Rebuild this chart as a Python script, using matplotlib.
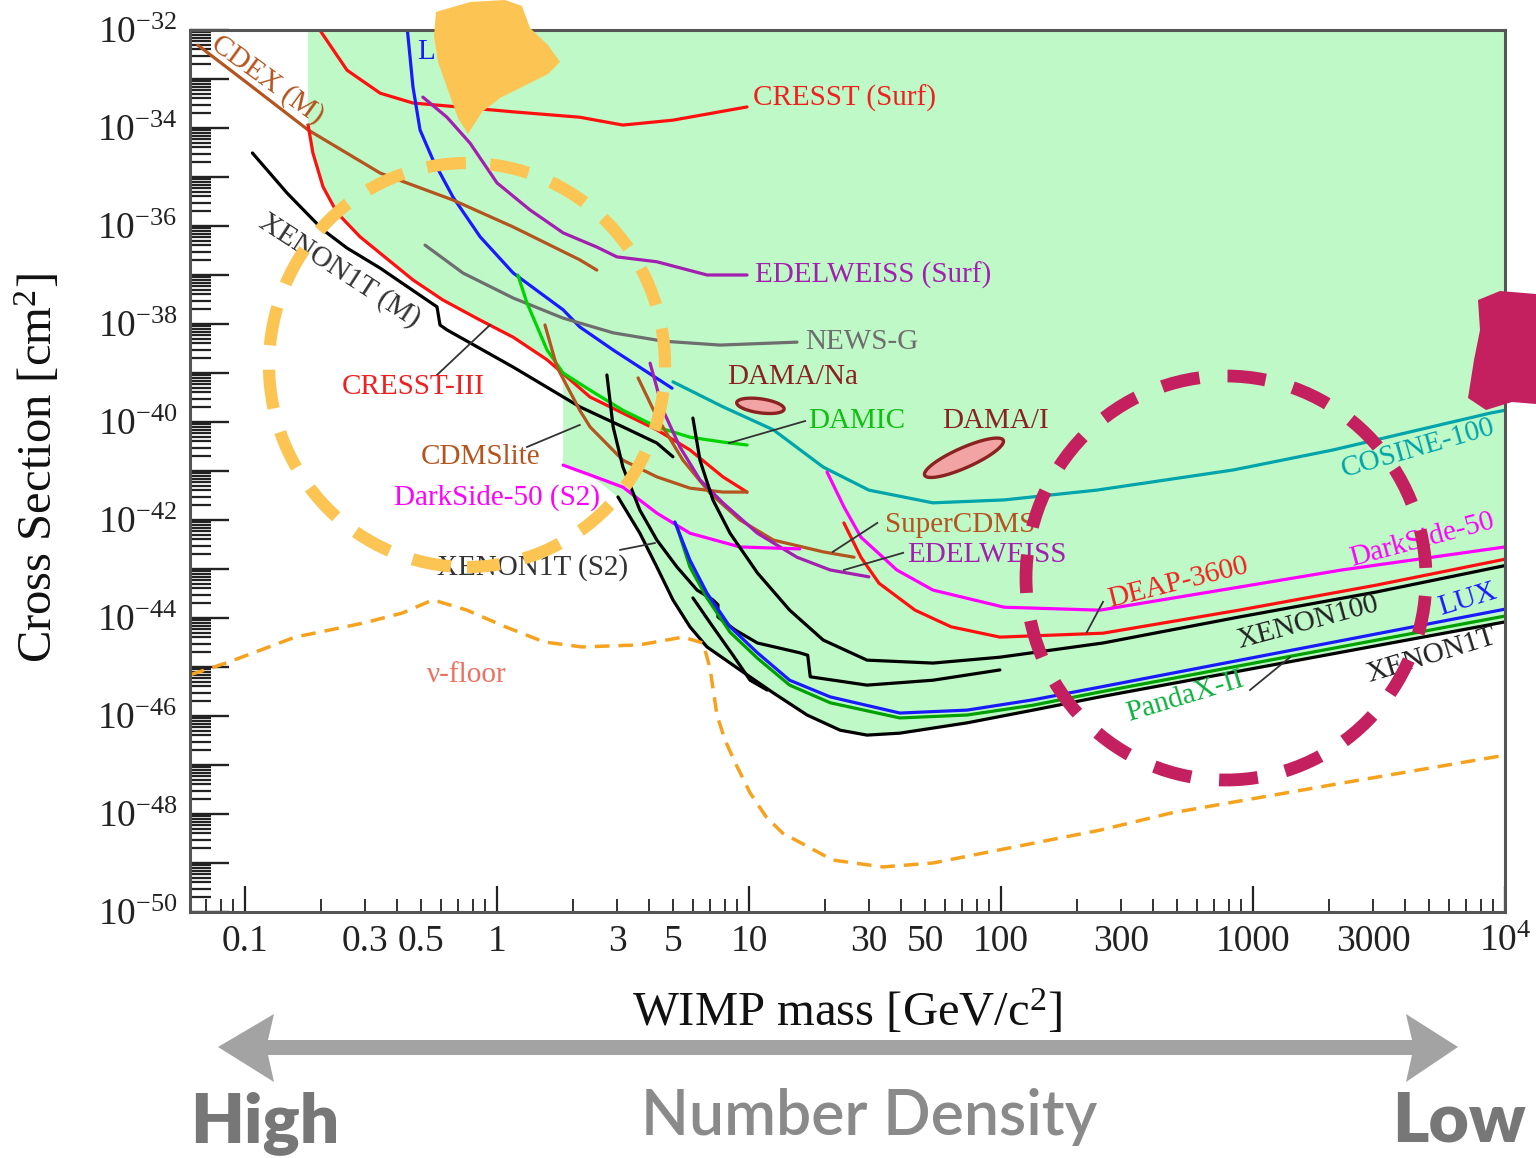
import numpy as np
import matplotlib
matplotlib.use("Agg")
import matplotlib.pyplot as plt
from matplotlib.patches import Ellipse, Polygon
from matplotlib.ticker import LogLocator, FuncFormatter

plt.rcParams['font.family'] = ['Liberation Serif', 'DejaVu Serif']
plt.rcParams['mathtext.fontset'] = 'custom'
plt.rcParams['mathtext.rm'] = 'Liberation Serif'
plt.rcParams['mathtext.it'] = 'Liberation Serif:italic'
plt.rcParams['mathtext.bf'] = 'Liberation Serif:bold'

# ---------------- data: WIMP mass [GeV/c^2], log10(cross section [cm^2]) ----------------
cresst_surf_mass = [0.195, 0.254, 0.344, 0.464, 0.633, 1.16, 2.13, 3.16, 4.99, 9.82]
cresst_surf_logxs = [-31.95, -32.82, -33.29, -33.49, -33.55, -33.67, -33.78, -33.94, -33.84, -33.57]

lux_lowmass_mass = [0.44, 0.464, 0.495, 0.557, 0.669, 0.857, 1.16, 1.83, 2.13, 2.89, 4.95]
lux_lowmass_logxs = [-31.95, -33.16, -34.04, -34.65, -35.41, -36.22, -36.96, -37.71, -38.06, -38.53, -39.31]

edelweiss_surf_mass = [0.508, 0.633, 0.782, 1.0, 1.35, 1.83, 2.49, 2.99, 4.31, 6.82, 9.82]
edelweiss_surf_logxs = [-33.37, -33.78, -34.31, -35.12, -35.67, -36.14, -36.43, -36.63, -36.73, -37.0, -37.0]

cdex_mass = [0.065, 0.102, 0.178, 0.344, 0.669, 1.16, 2.13, 2.49]
cdex_logxs = [-32.31, -33.08, -34.04, -34.92, -35.47, -36.02, -36.69, -36.90]

xenon1t_m_mass = [0.107, 0.147, 0.204, 0.254, 0.344, 0.527, 0.578, 0.594, 0.633, 1.16, 2.13, 3.16, 4.31, 4.99]
xenon1t_m_logxs = [-34.51, -35.33, -36.08, -36.45, -36.86, -37.51, -37.65, -38.02, -38.12, -38.88, -39.69, -40.10, -40.43, -40.71]

cresst3_mass = [0.178, 0.186, 0.204, 0.232, 0.286, 0.464, 0.61, 0.857, 1.16, 1.58, 2.34, 3.16, 4.31, 5.83, 7.88, 9.82]
cresst3_logxs = [-33.94, -34.51, -35.20, -35.73, -36.22, -37.10, -37.51, -37.92, -38.27, -38.73, -39.49, -39.82, -40.16, -40.57, -41.12, -41.43]

newsg_mass = [0.518, 0.733, 1.16, 1.83, 2.89, 4.56, 7.67, 15.5]
newsg_logxs = [-36.39, -36.96, -37.47, -37.88, -38.18, -38.35, -38.43, -38.37]

damic_mass = [1.21, 1.315, 1.58, 1.83, 2.34, 3.16, 4.31, 5.83, 7.88, 9.82]
damic_logxs = [-37.0, -37.57, -38.53, -39.0, -39.35, -39.76, -40.10, -40.31, -40.41, -40.47]

cdmslite_mass = [1.55, 1.73, 2.13, 2.34, 3.16, 4.31, 5.83, 7.88, 9.82]
cdmslite_logxs = [-38.02, -38.88, -39.76, -40.10, -40.78, -41.12, -41.35, -41.43, -41.43]

supercdms_mass = [3.63, 4.31, 5.47, 7.0, 9.21, 12.5, 19.7, 26.1]
supercdms_logxs = [-39.10, -39.90, -40.78, -41.45, -42.0, -42.41, -42.65, -42.76]

edelweiss_mass = [4.05, 4.56, 5.32, 6.39, 7.88, 10.8, 15.5, 21.0, 29.9]
edelweiss_logxs = [-38.80, -39.76, -40.51, -41.18, -41.65, -42.27, -42.76, -43.02, -43.16]

cosine_mass = [4.99, 7.88, 12.5, 19.7, 29.9, 53.7, 103, 240, 833, 2080, 8710, 10000]
cosine_logxs = [-39.18, -39.69, -40.16, -40.92, -41.39, -41.65, -41.59, -41.39, -40.98, -40.57, -39.82, -39.76]

ds50_s2_mass = [1.83, 2.34, 3.16, 4.31, 5.83, 9.21, 15.9]
ds50_s2_logxs = [-40.88, -41.08, -41.33, -41.86, -42.27, -42.55, -42.59]

ds50_mass = [20.4, 23.8, 27.8, 38.6, 53.7, 103, 247, 880, 2250, 10000]
ds50_logxs = [-41.02, -41.73, -42.35, -43.02, -43.43, -43.78, -43.84, -43.37, -43.02, -42.55]

deap_mass = [23.8, 27.8, 32.8, 45.6, 63.4, 99, 254, 880, 3080, 10000]
deap_logxs = [-42.06, -42.76, -43.29, -43.84, -44.18, -44.39, -44.31, -43.84, -43.33, -42.80]

xenon100_mass = [5.99, 6.39, 7.19, 8.41, 10.8, 14.5, 19.7, 29.4, 53.7, 99, 254, 880, 3080, 10000]
xenon100_logxs = [-39.92, -40.78, -41.59, -42.27, -43.08, -43.84, -44.45, -44.86, -44.92, -44.80, -44.51, -43.98, -43.47, -42.93]

notched_mass = [2.73, 2.89, 3.16, 3.69, 4.31, 5.18, 6.22, 7.19, 7.53, 7.53, 8.79, 10.8, 15.9, 17.1, 17.5, 29.4, 53.7, 99]
notched_logxs = [-39.04, -40.10, -40.92, -41.80, -42.41, -42.96, -43.43, -43.63, -43.73, -43.98, -44.24, -44.51, -44.71, -44.76, -45.20, -45.37, -45.27, -45.06]

short_seg_mass = [5.99, 7.19, 8.64, 10.1, 11.8]
short_seg_logxs = [-43.59, -44.18, -44.76, -45.27, -45.47]

xenon1t_mass = [3.02, 3.69, 4.31, 4.99, 5.83, 6.81, 9.21, 12.5, 17.0, 23.0, 29.4, 39.7, 73.3, 134, 247, 10000]
xenon1t_logxs = [-41.53, -42.27, -42.96, -43.63, -44.18, -44.59, -45.06, -45.53, -45.98, -46.29, -46.39, -46.35, -46.14, -45.88, -45.61, -44.08]

lux_mass = [5.08, 5.83, 6.81, 8.41, 10.8, 14.5, 21.0, 39.7, 73.3, 134, 247, 10000]
lux_logxs = [-42.04, -42.82, -43.49, -44.18, -44.71, -45.27, -45.61, -45.94, -45.88, -45.67, -45.41, -43.82]

pandax_mass = [5.18, 5.83, 6.81, 8.41, 10.8, 14.5, 21.0, 39.7, 73.3, 134, 247, 10000]
pandax_logxs = [-42.14, -42.96, -43.59, -44.29, -44.82, -45.37, -45.73, -46.04, -45.98, -45.78, -45.51, -43.96]

vfloor_mass = [0.0605, 0.084, 0.158, 0.297, 0.42, 0.557, 0.76, 1.08, 1.54, 2.17, 3.66, 5.47, 6.57, 7.0,
               7.46, 8.03, 8.79, 10.1, 11.7, 13.6, 21.5, 34.0, 53.7, 99, 247, 473, 2250, 10000]
vfloor_logxs = [-45.16, -44.92, -44.39, -44.10, -43.90, -43.63, -43.84, -44.18, -44.49, -44.59, -44.55, -44.39,
                -44.51, -45.02, -45.98, -46.49, -46.94, -47.57, -48.06, -48.39, -48.94, -49.08, -49.0, -48.73,
                -48.33, -47.98, -47.37, -46.80]

# DAMA allowed regions: centre (mass, log10 xs), half-axis vectors in decades (log mass, log xs)
dama_na_center = (11.1, -39.67)
dama_na_major = (0.094, -0.068)
dama_na_minor = (-0.004, -0.141)
dama_i_center = (71.3, -40.73)
dama_i_major = (0.156, 0.357)
dama_i_minor = (0.016, -0.186)

xtick_values = [0.1, 0.3, 0.5, 1, 3, 5, 10, 30, 50, 100, 300, 1000, 3000, 10000]
xtick_labels = ['0.1', '0.3', '0.5', '1', '3', '5', '10', '30', '50', '100', '300', '1000', '3000', r'$10^4$']

# ---------------- colours ----------------
RED = '#ff1010'
BLUE = '#1a1aff'
PURPLE = '#a31fb0'
BROWN = '#b4541e'
GRAY = '#6e6e6e'
GREEN = '#00d400'
TEAL = '#00a4ab'
MAGENTA = '#ff00ff'
PANDA = '#00a000'
DARKRED = '#8b2222'
FILL = '#c0f9c8'
ORANGE = '#f7a21e'

fig = plt.figure(figsize=(15.36, 11.58), dpi=100)
W, H = 1536.0, 1158.0
ax = fig.add_axes([190 / W, 1 - 912 / H, 1315 / W, 882 / H])
ax.set_xscale('log')
ax.set_yscale('log')
ax.set_xlim(0.0605, 1e4)
ax.set_ylim(1e-50, 1e-32)


def X(v):
    return 10.0 ** np.asarray(v, dtype=float)


# excluded (green) region built from the limit curves
c3m = np.array(cresst3_mass)
c3l = np.array(cresst3_logxs)
dsm = np.array(ds50_s2_mass)
dsl = np.array(ds50_s2_logxs)
x1m = np.array(xenon1t_mass)
x1l = np.array(xenon1t_logxs)
edge_m = dsm[0]
c3_edge = np.interp(np.log10(edge_m), np.log10(c3m), c3l)
ds_sel = dsm < x1m[0]
c3_sel = c3m < edge_m
ytop = np.log10(ax.get_ylim()[1])
poly_m = np.concatenate([[c3m[0], x1m[-1]], x1m[::-1], dsm[ds_sel][::-1], [edge_m], c3m[c3_sel][::-1]])
poly_l = np.concatenate([[ytop, ytop], x1l[::-1], dsl[ds_sel][::-1], [c3_edge], c3l[c3_sel][::-1]])
ax.fill(poly_m, X(poly_l), color=FILL, lw=0, zorder=0.5)

LW = 2.3


def curve(m, l, color, lw=LW, **kw):
    ax.plot(m, X(l), color=color, lw=lw, solid_joinstyle='round', solid_capstyle='round', zorder=2, **kw)


curve(cresst_surf_mass, cresst_surf_logxs, RED)
curve(lux_lowmass_mass, lux_lowmass_logxs, BLUE)
curve(edelweiss_surf_mass, edelweiss_surf_logxs, PURPLE)
curve(cdex_mass, cdex_logxs, BROWN)
curve(xenon1t_m_mass, xenon1t_m_logxs, 'black')
curve(newsg_mass, newsg_logxs, GRAY)
curve(cresst3_mass, cresst3_logxs, RED)
curve(damic_mass, damic_logxs, GREEN)
curve(cdmslite_mass, cdmslite_logxs, BROWN)
curve(supercdms_mass, supercdms_logxs, BROWN)
curve(edelweiss_mass, edelweiss_logxs, PURPLE)
curve(cosine_mass, cosine_logxs, TEAL)
curve(ds50_s2_mass, ds50_s2_logxs, MAGENTA)
curve(ds50_mass, ds50_logxs, MAGENTA)
curve(xenon100_mass, xenon100_logxs, 'black')
curve(deap_mass, deap_logxs, RED)
curve(notched_mass, notched_logxs, 'black')
curve(short_seg_mass, short_seg_logxs, 'black')
curve(xenon1t_mass, xenon1t_logxs, 'black')
curve(pandax_mass, pandax_logxs, PANDA)
curve(lux_mass, lux_logxs, BLUE)
ax.plot(vfloor_mass, X(vfloor_logxs), color=ORANGE, lw=2.5, ls=(0, (4.2, 2.6)), zorder=2)


def dama(center, major, minor):
    t = np.linspace(0, 2 * np.pi, 120)
    lm = np.log10(center[0]) + major[0] * np.cos(t) + minor[0] * np.sin(t)
    ll = center[1] + major[1] * np.cos(t) + minor[1] * np.sin(t)
    ax.fill(X(lm), X(ll), facecolor='#f2a3a3', edgecolor=DARKRED, lw=2.4, zorder=2.5)


dama(dama_na_center, dama_na_major, dama_na_minor)
dama(dama_i_center, dama_i_major, dama_i_minor)

# leader lines
leaders = [
    (0.578, -39.04, 0.938, -38.02),
    (1.315, -40.51, 2.13, -40.06),
    (3.08, -42.61, 4.23, -42.47),
    (8.33, -40.43, 16.7, -39.98),
    (21.5, -42.65, 32.3, -42.06),
    (23.8, -43.02, 40.9, -42.67),
    (219, -44.29, 254, -43.67),
    (973, -45.47, 1403, -44.80),
]
for m1, l1, m2, l2 in leaders:
    ax.plot([m1, m2], X([l1, l2]), color='#333333', lw=1.3, zorder=2.6)

FS = 21
labels = [
    ('CRESST (Surf)', 10.4, -33.39, '#f02020', 0, 'left'),
    ('EDELWEISS (Surf)', 10.6, -37.0, PURPLE, 0, 'left'),
    ('NEWS-G', 16.7, -38.37, GRAY, 0, 'left'),
    ('DAMA/Na', 14.9, -39.08, DARKRED, 0, 'center'),
    ('DAMIC', 17.1, -39.98, '#10c010', 0, 'left'),
    ('DAMA/I', 94.9, -39.98, DARKRED, 0, 'center'),
    ('CRESST-III', 0.464, -39.29, '#f02020', 0, 'center'),
    ('CDMSlite', 0.857, -40.71, BROWN, 0, 'center'),
    ('DarkSide-50 (S2)', 1.0, -41.55, MAGENTA, 0, 'center'),
    ('XENON1T (S2)', 1.39, -42.96, '#333333', 0, 'center'),
    ('SuperCDMS', 34.6, -42.10, BROWN, 0, 'left'),
    ('EDELWEISS', 42.6, -42.71, PURPLE, 0, 'left'),
    ('DEAP-3600', 504, -43.29, '#f02020', 14, 'center'),
    ('XENON100', 1652, -44.10, '#222222', 15, 'center'),
    ('COSINE-100', 4517, -40.53, TEAL, 16, 'center'),
    ('DarkSide-50', 4690, -42.41, MAGENTA, 15, 'center'),
    ('LUX', 7130, -43.63, BLUE, 17, 'center'),
    ('XENON1T', 5130, -44.76, '#222222', 17, 'center'),
    ('PandaX-II', 537, -45.61, '#10b040', 17, 'center'),
    ('ν-floor', 0.76, -45.16, '#f07060', 0, 'center'),
    ('CDEX (M)', 0.123, -33.02, BROWN, -36, 'center'),
    ('XENON1T (M)', 0.238, -36.90, '#333333', -33, 'center'),
    ('LUX', 0.482, -32.45, BLUE, 0, 'left'),
]
for txt, m, l, col, rot, ha in labels:
    ax.text(m, 10.0 ** l, txt, color=col, fontsize=FS, rotation=rot, ha=ha, va='center',
            rotation_mode='anchor', zorder=3)

# ---------------- axes styling ----------------
for s in ax.spines.values():
    s.set_color('#555555')
    s.set_linewidth(2.2)


def xfmt(v, pos):
    for tv, tl in zip(xtick_values, xtick_labels):
        if abs(np.log10(v) - np.log10(tv)) < 1e-3:
            return tl
    return ''


ax.xaxis.set_major_locator(LogLocator(base=10, numticks=30))
ax.xaxis.set_minor_locator(LogLocator(base=10, subs=np.arange(2, 10), numticks=100))
ax.xaxis.set_major_formatter(FuncFormatter(xfmt))
ax.xaxis.set_minor_formatter(FuncFormatter(xfmt))


def yfmt(v, pos):
    e = int(round(np.log10(v)))
    return r'$10^{%d}$' % e if e % 2 == 0 else ''


ax.yaxis.set_major_locator(LogLocator(base=10, numticks=40))
ax.yaxis.set_minor_locator(LogLocator(base=10, subs=np.arange(2, 10), numticks=200))
ax.yaxis.set_major_formatter(FuncFormatter(yfmt))
ax.yaxis.set_minor_formatter(FuncFormatter(lambda v, p: ''))

ax.tick_params(axis='both', which='both', direction='in', top=False, right=False,
               labelsize=27, colors='#222222')
ax.tick_params(axis='x', which='major', length=19, width=1.6, pad=9)
ax.tick_params(axis='x', which='minor', length=9.5, width=1.3, pad=9)
ax.tick_params(axis='y', which='major', length=28, width=1.7, pad=9)
ax.tick_params(axis='y', which='minor', length=15, width=1.6)

ax.set_xlabel('WIMP mass [GeV/c$^2$]', fontsize=35, color='#111111')
ax.set_ylabel('Cross Section [cm$^2$]', fontsize=35, color='#111111')
ax.xaxis.set_label_coords(0.5, -0.085)
ax.yaxis.set_label_coords(-0.097, 0.503)

# ---------------- annotations on the figure (pixel placement) ----------------
def P(x, y):
    return (x / 100.0, (H - y) / 100.0)


yc = Ellipse(P(467, 365), 3.96, 4.04, fill=False, edgecolor='#fcc453', lw=8.8,
             ls=(0.5, (3.2, 2.0)), transform=fig.dpi_scale_trans, zorder=10)
pc = Ellipse(P(1226, 578), 4.00, 4.04, fill=False, edgecolor='#c41f5e', lw=9.2,
             ls=(0.5, (3.0, 2.2)), transform=fig.dpi_scale_trans, zorder=10)
fig.add_artist(yc)
fig.add_artist(pc)

yellow_blob = [(436, 12), (470, 2), (505, 0), (522, 6), (530, 28), (548, 45), (560, 62), (548, 74),
               (520, 88), (500, 98), (482, 112), (468, 134), (458, 118), (448, 90), (438, 62), (434, 36)]
pink_blob = [(1478, 300), (1500, 291), (1536, 294), (1536, 404), (1512, 402), (1486, 410), (1468, 398),
             (1474, 360), (1480, 330)]
fig.add_artist(Polygon([P(*p) for p in yellow_blob], closed=True, color='#fcc453', lw=0,
                       transform=fig.dpi_scale_trans, zorder=11))
fig.add_artist(Polygon([P(*p) for p in pink_blob], closed=True, color='#c41f5e', lw=0,
                       transform=fig.dpi_scale_trans, zorder=11))

arrow = [(218, 1047), (274, 1014), (268, 1040), (1412, 1040), (1406, 1014), (1458, 1047),
         (1406, 1082), (1412, 1055), (268, 1055), (274, 1082)]
fig.add_artist(Polygon([P(*p) for p in arrow], closed=True, color='#a3a3a3', lw=0,
                       transform=fig.dpi_scale_trans, zorder=5))

fig.text(190 / W, 1 - 1142 / H, 'High', fontsize=50, family='Lato', fontweight='heavy',
         color='#777777', ha='left', va='baseline')
fig.text(1392 / W, 1 - 1142 / H, 'Low', fontsize=50, family='Lato', fontweight='heavy',
         color='#777777', ha='left', va='baseline')
fig.text(869 / W, 1 - 1135 / H, 'Number Density', fontsize=45, family='Lato', fontweight='semibold',
         color='#8a8a8a', ha='center', va='baseline')

fig.savefig('out.png', dpi=100)
